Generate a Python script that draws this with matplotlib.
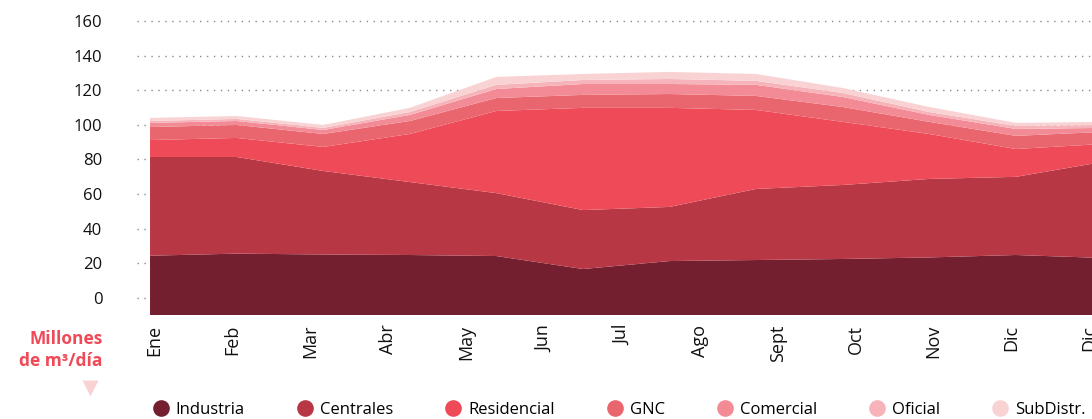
import numpy as np
import matplotlib
matplotlib.use("Agg")
import matplotlib.pyplot as plt

# monthly demand by segment (Millones de m3/dia), Ene..Dic
meses = np.arange(12)
industria = [34.3, 35.5, 35.0, 34.7, 34.1, 26.6, 31.2, 31.8, 32.4, 33.3, 34.7, 33.0]
centrales = [57.1, 55.9, 48.3, 42.2, 36.4, 34.1, 31.3, 41.1, 42.8, 45.4, 45.2, 55.5]
residencial = [9.8, 11.0, 13.9, 27.8, 47.5, 59.1, 57.3, 45.7, 36.5, 26.0, 16.1, 10.4]
gnc = [7.5, 7.5, 7.5, 7.5, 7.5, 7.5, 8.0, 8.1, 8.6, 7.0, 7.6, 7.0]
comercial = [2.4, 2.3, 2.3, 3.5, 5.2, 6.3, 5.8, 6.4, 5.8, 4.0, 4.0, 2.3]
oficial = [1.1, 1.2, 1.2, 1.7, 2.4, 2.3, 2.9, 2.3, 2.3, 1.7, 1.7, 1.7]
subdistr = [1.8, 1.7, 1.7, 2.4, 4.6, 3.5, 4.1, 4.0, 2.9, 2.9, 1.8, 1.8]

series = ["Industria", "Centrales", "Residencial", "GNC", "Comercial", "Oficial", "SubDistr."]
colores = ["#731f30", "#b73745", "#ef4a57", "#ea666f", "#f28b95", "#f6b4ba", "#f9d3d4"]

x_labels = ["Ene", "Feb", "Mar", "Abr", "May", "Jun", "Jul", "Ago", "Sept",
            "Oct", "Nov", "Dic", "Dic"]
y_labels = [0, 20, 40, 60, 80, 100, 120, 140, 160]

plt.rcParams["font.family"] = ["Open Sans", "DejaVu Sans"]

fig = plt.figure(figsize=(10.92, 4.19), dpi=100)
ax = fig.add_axes([0.1255, 0.2482, 0.8745, 0.716])

ax.stackplot(meses, industria, centrales, residencial, gnc, comercial, oficial,
             subdistr, colors=colores, labels=series, lw=0, zorder=2)

# the original's labels sit offset from the data grid
ax.set_yticks(np.array(y_labels) + 10, [str(v) for v in y_labels])
ax.set_xticks(np.arange(13) * 0.9 + 0.05, x_labels, rotation=90)
ax.set_xlim(-0.15, 10.88)
ax.set_ylim(0, 173.5)
ax.grid(axis="y", color="#8a8a8a", lw=1, ls=(0, (1, 4)), zorder=1)
ax.set_axisbelow(True)
for s in ax.spines.values():
    s.set_visible(False)
ax.tick_params(axis="both", length=0, labelsize=12, colors="#111111")
ax.tick_params(axis="y", pad=25)
ax.tick_params(axis="x", pad=7, labelsize=13)
for t in ax.get_xticklabels():
    t.set_va("top")

fig.text(0.094, 0.165, "Millones\nde m³/día", ha="right", va="center",
         color="#ef4a57", fontsize=12.5, fontweight="bold", linespacing=1.25)
ax.plot([0.082], [0.073], marker="v", ms=12, color="#f9d3d4", mec="none",
        transform=fig.transFigure, clip_on=False)

handles = [plt.Line2D([], [], ls="", marker="o", ms=12, color=c, mec="none")
           for c in colores]
fig.legend(handles, series, loc="center left", bbox_to_anchor=(0.141, 0.022),
           ncol=7, frameon=False, fontsize=12, handlelength=0.8,
           handletextpad=0.5, columnspacing=3.2, borderpad=0, borderaxespad=0)

fig.savefig("out.png", dpi=100)
